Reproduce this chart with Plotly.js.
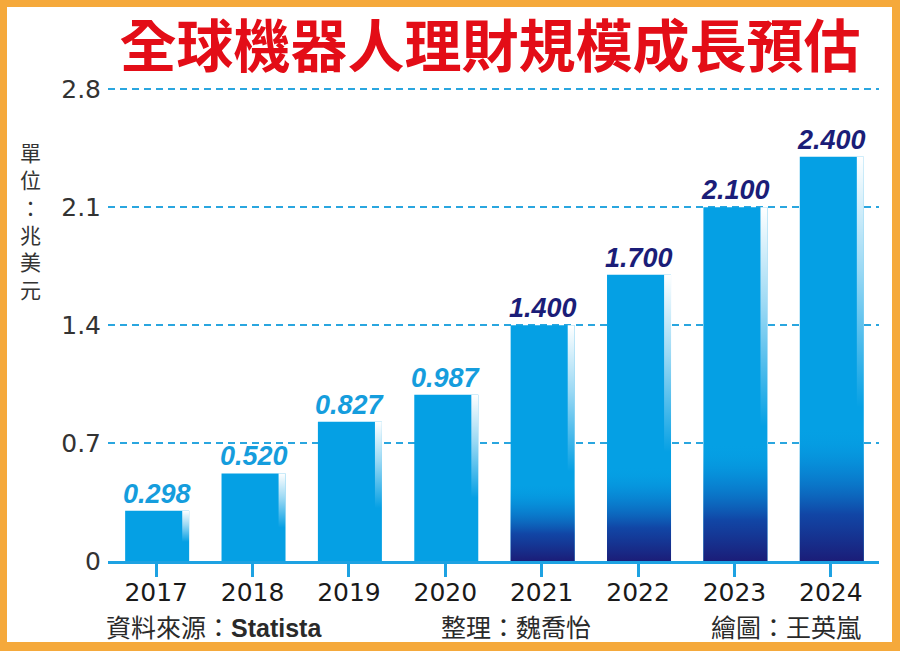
<!DOCTYPE html>
<html>
<head>
<meta charset="utf-8">
<script src="https://cdn.plot.ly/plotly-3.0.1.min.js"></script>
<style>
  html, body { margin:0; padding:0; width:900px; height:651px; overflow:hidden; background:#f5a93b; }
  #chart { position:absolute; left:0; top:0; width:900px; height:651px; }
</style>
</head>
<body>
<div id="chart"></div>
<script>
// ---- data ----
const years = ['2017','2018','2019','2020','2021','2022','2023','2024'];
const values = [0.298, 0.520, 0.827, 0.987, 1.400, 1.700, 2.100, 2.400];
const forecast = [false, false, false, false, true, true, true, true];
const yTicks = [0, 0.7, 1.4, 2.1, 2.8];
const yTickText = ['0', '0.7', '1.4', '2.1', '2.8'];
const titleText = '全球機器人理財規模成長預估';
const unitText = '單位：兆美元';
const sourceText = '資料來源：';
const sourceName = 'Statista';
const editorText = '整理：魏喬怡';
const artistText = '繪圖：王英嵐';

// ---- styling ----
const W = 900, H = 651;
const M = {l:108, r:21, t:86, b:90};
const PW = W - M.l - M.r, PH = H - M.t - M.b;
const px2x = p => (p - M.l) / PW;
const py2y = p => (H - M.b - p) / PH;

const ORANGE = '#f5a93b';
const BLUE = '#05a0e4';
const NAVY = '#1b1d78';
const barLeft = -0.322, barWidth = 0.664, stripL = 0.27, stripR = 0.342;

const idx = years.map((_, i) => i);

const traces = [];
traces.push({
  type:'bar', x: idx, y: values,
  width: barWidth, offset: barLeft,
  marker:{color: BLUE, line:{width:0}},
  hoverinfo:'y', showlegend:false
});

// right-edge highlight strips
idx.forEach((i) => {
  const v = values[i];
  traces.push({
    type:'scatter', mode:'none',
    x:[i+stripL, i+stripR, i+stripR, i+stripL],
    y:[0, 0, v, v],
    fill:'toself',
    fillgradient:{type:'vertical', start: v*0.38, stop: v,
      colorscale:[[0,'rgba(255,255,255,0)'],[0.55,'rgba(255,255,255,0.6)'],[1,'rgba(255,255,255,1)']]},
    hoverinfo:'skip', showlegend:false
  });
});

// dark bottom gradient on forecast bars
idx.forEach((i) => {
  if (!forecast[i]) return;
  const v = values[i];
  traces.push({
    type:'scatter', mode:'none',
    x:[i+barLeft, i+stripR, i+stripR, i+barLeft],
    y:[0, 0, v*0.33, v*0.33],
    fill:'toself',
    fillgradient:{type:'vertical', start: 0, stop: v*0.33,
      colorscale:[[0,'rgba(27,29,120,1)'],[0.35,'rgba(18,62,160,0.92)'],[0.7,'rgba(10,115,200,0.5)'],[1,'rgba(5,160,228,0)']]},
    hoverinfo:'skip', showlegend:false
  });
});

const annotations = [];
idx.forEach((i) => {
  annotations.push({
    x: i + 0.01, y: values[i], xref:'x', yref:'y',
    text: values[i].toFixed(3), showarrow:false,
    xanchor:'center', yanchor:'bottom', yshift: 0,
    font:{family:'Liberation Sans, Arial, sans-serif',
          size:27, weight:'bold', style:'italic', color: forecast[i] ? NAVY : '#159ddd'}
  });
});

annotations.push({
  xref:'paper', yref:'paper', x: px2x(30), y: py2y(220),
  xanchor:'center', yanchor:'middle', showarrow:false,
  text: unitText.split('').join('<br>'),
  font:{family:'Noto Sans CJK TC, sans-serif', size:21, color:'#333333'}
});
annotations.push({
  xref:'paper', yref:'paper', x: px2x(104), y: py2y(626),
  xanchor:'left', yanchor:'middle', showarrow:false,
  text: sourceText + '<span style="font-family:Liberation Sans, Arial, sans-serif;font-weight:bold">' + sourceName + '</span>',
  font:{family:'Noto Sans CJK TC, sans-serif', size:25, color:'#2a2a2a'}
});
annotations.push({
  xref:'paper', yref:'paper', x: px2x(516), y: py2y(626),
  xanchor:'center', yanchor:'middle', showarrow:false,
  text: editorText,
  font:{family:'Noto Sans CJK TC, sans-serif', size:25, color:'#2a2a2a'}
});
annotations.push({
  xref:'paper', yref:'paper', x: px2x(863), y: py2y(626),
  xanchor:'right', yanchor:'middle', showarrow:false,
  text: artistText,
  font:{family:'Noto Sans CJK TC, sans-serif', size:25, color:'#2a2a2a'}
});

const layout = {
  width: W, height: H,
  margin: M,
  paper_bgcolor: ORANGE, plot_bgcolor:'#ffffff',
  shapes:[{type:'rect', xref:'paper', yref:'paper', layer:'below',
           x0: px2x(7), x1: px2x(892), y0: py2y(642), y1: py2y(7),
           fillcolor:'#ffffff', line:{width:0}}],
  title:{text: titleText, xref:'container', yref:'container',
         x: 490/W, y: 1 - 47/H, xanchor:'center', yanchor:'middle',
         font:{family:'Noto Sans CJK TC, sans-serif', size:57, weight:'bold', color:'#e30d17'}},
  xaxis:{type:'linear', range:[-0.5, 7.5], tickvals: idx, ticktext: years,
         showgrid:false, zeroline:false,
         showline:true, linecolor:'#1ea2e2', linewidth:3,
         ticks:'outside', ticklen:13, tickwidth:3, tickcolor:'#1ea2e2',
         ticklabelstandoff: -6,
         tickfont:{family:'DejaVu Sans, sans-serif', size:25, color:'#1a1a1a'},
         fixedrange:true},
  yaxis:{range:[0, 2.82], tickvals: yTicks, ticktext: yTickText,
         showgrid:true, gridcolor:'#2aa6df', gridwidth:2, griddash:'7px,5px',
         zeroline:false, showline:false, ticks:'',
         ticklabelstandoff: 6,
         tickfont:{family:'DejaVu Sans, sans-serif', size:25, color:'#333333'},
         fixedrange:true},
  annotations: annotations,
  showlegend:false
};

Plotly.newPlot('chart', traces, layout, {displayModeBar:false, staticPlot:true});
</script>
</body>
</html>
